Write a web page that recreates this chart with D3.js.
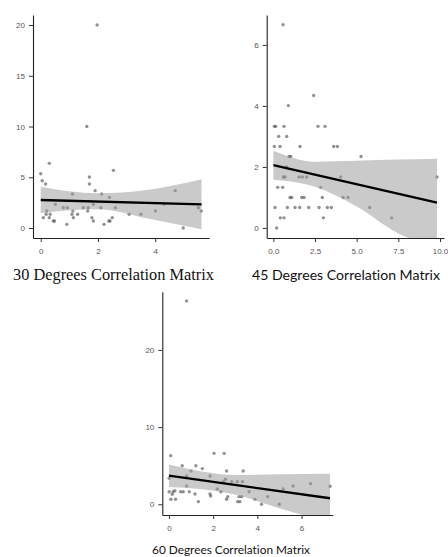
<!DOCTYPE html>
<html>
<head>
<meta charset="utf-8">
<script src="https://cdn.jsdelivr.net/npm/d3@7"></script>
<style>
  html, body { margin: 0; padding: 0; background: #fff; }
  svg { display: block; }
  text { font-variant-ligatures: none; font-feature-settings: "liga" 0, "clig" 0; }
</style>
</head>
<body>
<svg id="chart" width="448" height="557"></svg>
<script>
// ---------------- DATA ----------------
// Panel: 30 degrees
const p30x = [1.97,1.61,0.30,0,0.05,0.17,1.70,1.70,2.54,1.90,1.11,2.13,2.40,4.70,0.51,1.84,0.79,0.93,1.49,1.66,2.10,2.61,1.64,1.12,0.21,0.19,0.33,1.09,1.29,3.09,3.50,4.01,4.31,0.09,0.30,1.14,1.79,1.84,0.44,0.48,0.91,2.21,2.38,2.42,2.50,4.98,5.51,5.61];
const p30y = [20.0,10.0,6.37,5.35,4.66,4.33,5.02,4.33,5.68,3.68,3.35,3.35,3.02,3.68,2.33,2.33,2.0,2.0,2.0,2.0,2.0,2.0,1.67,1.67,1.67,1.35,1.35,1.35,1.35,1.35,1.35,1.67,2.33,1.02,1.02,1.02,1.02,0.69,0.69,0.69,0.36,0.36,0.69,0.69,1.02,0,2.0,1.67];
const fit30X = [0, 5.62];
const fit30Y = [2.76, 2.33];
const band30X = [0, 1, 2, 3.7, 5.62];
const band30Lo = [1.45, 1.74, 1.84, 0.96, -0.13];
const band30Hi = [4.07, 3.62, 3.42, 3.74, 4.80];
const ticks30X = [0, 2, 4];
const ticks30Y = [0, 5, 10, 15, 20];
const title30 = "30 Degrees Correlation Matrix";

// Panel: 45 degrees
const p45x = [0.58,2.42,0.9,0.06,0.14,0.64,2.68,3.1,0.32,0.8,0.06,0.4,1.6,3.62,3.84,0.94,1.04,5.26,0.8,0.6,0.7,1.54,1.74,2.0,4.04,9.82,0.26,0.56,2.84,1.0,1.1,1.7,1.84,2.94,4.18,4.48,0.1,0.84,1.3,1.58,2.12,2.74,3.24,3.48,5.78,0.42,0.64,3.0,7.1,0.2];
const p45y = [6.66,4.34,4.01,3.33,3.33,3.33,3.33,3.33,3.0,3.0,2.67,2.67,2.67,2.67,2.67,2.34,2.34,2.34,2.0,1.67,1.67,1.67,1.67,1.67,1.67,1.67,1.33,1.33,1.33,1.0,1.0,1.0,1.0,1.0,1.0,1.0,0.67,0.67,0.67,0.67,0.67,0.67,0.67,0.67,0.67,0.33,0.33,0.33,0.33,0];
const fit45X = [0, 9.82];
const fit45Y = [2.06, 0.83];
const band45X = [0, 2.5, 5, 7.5, 9.82];
const band45Lo = [1.58, 1.35, 0.70, -0.18, -0.63];
const band45Hi = [2.53, 2.17, 2.20, 2.24, 2.27];
const ticks45X = [0, 2.5, 5, 7.5, 10];
const ticks45Y = [0, 2, 4, 6];
const title45 = "45 Degrees Correlation Matrix";

// Panel: 60 degrees
const p60x = [0.8,0.08,2.04,2.5,0.6,1.22,1.51,1.0,2.61,3.36,0.01,0.8,1.86,2.56,2.46,2.84,3.09,3.33,0.8,2.19,2.35,3.63,5.17,5.62,6.41,7.29,0.01,0.19,0.27,0.15,0.53,0.65,0.92,1.18,1.86,1.89,2.66,2.61,3.17,3.29,3.11,3.21,3.89,4.47,4.19,4.99,0.09,0.30,1.33];
const p60y = [26.35,6.3,6.6,6.6,5.0,5.0,4.62,4.31,4.31,4.31,3.37,3.67,3.67,3.24,2.93,2.93,2.93,2.93,2.37,1.98,1.63,1.63,1.98,2.37,2.67,2.33,1.63,1.63,1.76,1.3,1.63,1.63,1.63,1.33,1.33,1.08,0.99,0.65,0.99,0.99,0.34,0.34,0.65,0.99,0,0,0.65,0.65,0.34];
const fit60X = [0, 7.29];
const fit60Y = [3.70, 0.78];
const band60X = [0, 1.5, 3, 5, 7.29];
const band60Lo = [2.25, 1.95, 1.25, -0.50, -2.40];
const band60Hi = [5.15, 4.25, 3.80, 3.90, 3.97];
const ticks60X = [0, 2, 4, 6];
const ticks60Y = [0, 10, 20];
const title60 = "60 Degrees Correlation Matrix";

// ---------------- DRAW ----------------
const svg = d3.select("#chart");

const panels = [
  { id: "p30", px: p30x, py: p30y, fx: fit30X, fy: fit30Y, bx: band30X, blo: band30Lo, bhi: band30Hi,
    tx: ticks30X, ty: ticks30Y, fmtX: d3.format("d"), title: title30,
    xDom: [-0.27, 5.88], yDom: [-0.985, 20.99],
    box: { left: 33, top: 15, right: 209, bottom: 238 },
    titleX: 113.5, titleY: 280, titleFont: "'Liberation Serif','Times New Roman',serif", titleW: 201 },
  { id: "p45", px: p45x, py: p45y, fx: fit45X, fy: fit45Y, bx: band45X, blo: band45Lo, bhi: band45Hi,
    tx: ticks45X, ty: ticks45Y, fmtX: d3.format(".1f"), title: title45,
    xDom: [-0.4, 10.24], yDom: [-0.33, 6.98],
    box: { left: 266.7, top: 15, right: 444, bottom: 238 },
    titleX: 346, titleY: 280, titleFont: "Lato,'Open Sans',sans-serif", titleW: 188 },
  { id: "p60", px: p60x, py: p60y, fx: fit60X, fy: fit60Y, bx: band60X, blo: band60Lo, bhi: band60Hi,
    tx: ticks60X, ty: ticks60Y, fmtX: d3.format("d"), title: title60,
    xDom: [-0.30, 7.41], yDom: [-1.39, 27.54],
    box: { left: 162.3, top: 291.7, right: 332.7, bottom: 515 },
    titleX: 231, titleY: 554, titleFont: "Lato,'Open Sans',sans-serif", titleW: 158 }
];

panels.forEach(p => {
  const b = p.box;
  const x = d3.scaleLinear().domain(p.xDom).range([b.left, b.right]);
  const y = d3.scaleLinear().domain(p.yDom).range([b.bottom, b.top]);

  const g = svg.append("g").attr("class", p.id);

  svg.append("clipPath").attr("id", "clip-" + p.id)
    .append("rect").attr("x", b.left).attr("y", b.top)
    .attr("width", b.right - b.left).attr("height", b.bottom - b.top);

  // points
  g.append("g").selectAll("circle")
    .data(p.px.map((v, i) => [v, p.py[i]]))
    .join("circle")
    .attr("cx", d => x(d[0])).attr("cy", d => y(d[1]))
    .attr("r", 1.7)
    .attr("fill", "#4a4a4a").attr("fill-opacity", 0.6);

  // confidence band
  const bandData = p.bx.map((v, i) => ({ x: v, lo: p.blo[i], hi: p.bhi[i] }));
  g.append("path")
    .datum(bandData)
    .attr("clip-path", "url(#clip-" + p.id + ")")
    .attr("fill", "#999999").attr("fill-opacity", 0.52)
    .attr("d", d3.area().curve(d3.curveMonotoneX)
      .x(d => x(d.x)).y0(d => y(d.lo)).y1(d => y(d.hi)));

  // fit line
  g.append("path")
    .datum(p.fx.map((v, i) => [v, p.fy[i]]))
    .attr("fill", "none").attr("stroke", "#000").attr("stroke-width", 2.3)
    .attr("d", d3.line().x(d => x(d[0])).y(d => y(d[1])));

  // axes
  const ax = g.append("g").attr("transform", `translate(0,${b.bottom})`)
    .call(d3.axisBottom(x).tickValues(p.tx).tickFormat(p.fmtX).tickSizeInner(4).tickSizeOuter(0).tickPadding(6));
  const ay = g.append("g").attr("transform", `translate(${b.left},0)`)
    .call(d3.axisLeft(y).tickValues(p.ty).tickFormat(d3.format("d")).tickSizeInner(4).tickSizeOuter(0).tickPadding(4));
  [ax, ay].forEach(a => {
    a.select(".domain").attr("stroke", "#222").attr("stroke-width", 1.1);
    a.selectAll(".tick line").attr("stroke", "#333").attr("stroke-width", 1);
    a.selectAll(".tick text").attr("fill", "#555")
      .attr("font-family", "'Liberation Sans',Arial,sans-serif").attr("font-size", 8);
  });

  // title
  const t = svg.append("text")
    .attr("x", p.titleX).attr("y", p.titleY)
    .attr("text-anchor", "middle")
    .attr("font-family", p.titleFont)
    .attr("font-size", 16)
    .attr("fill", "#111")
    .text(p.title);
  const w = t.node().getComputedTextLength();
  if (w > 0) t.attr("font-size", (16 * p.titleW / w).toFixed(2));
});
</script>
</body>
</html>
